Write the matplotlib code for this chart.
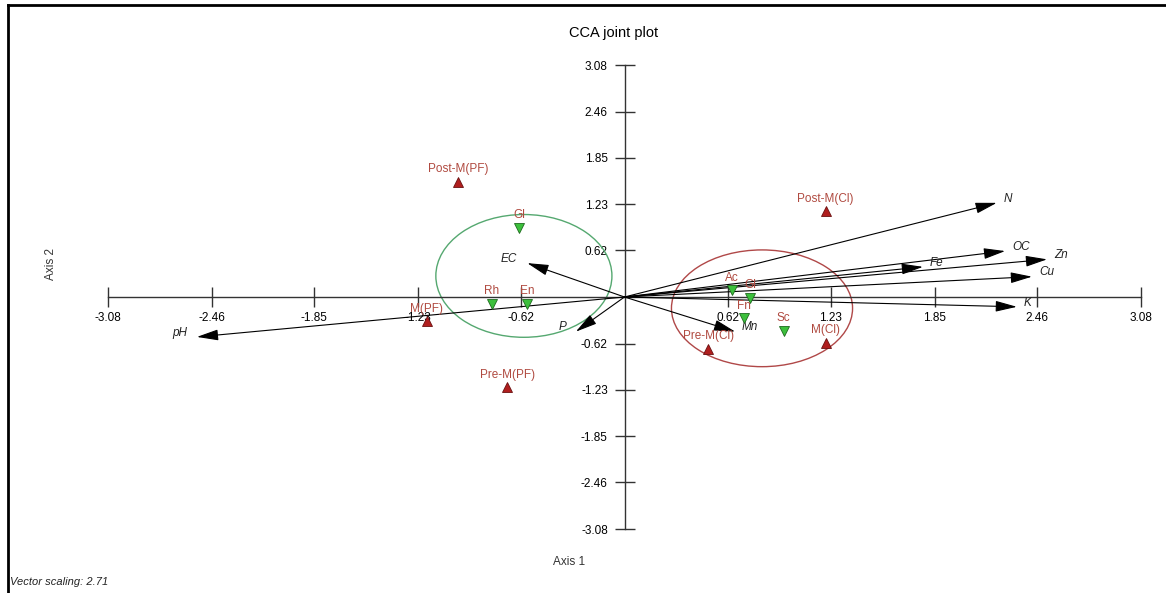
import numpy as np
import matplotlib
matplotlib.use("Agg")
import matplotlib.pyplot as plt
from matplotlib.patches import Ellipse
from matplotlib.lines import Line2D

plt.rcParams["font.family"] = ["Liberation Sans", "DejaVu Sans"]

## Data
sites = ["Post-M(PF)", "Post-M(Cl)", "M(PF)", "Pre-M(PF)", "Pre-M(Cl)", "M(Cl)"]
site_x = [-0.99, 1.20, -1.18, -0.70, 0.50, 1.20]
site_y = [1.53, 1.14, -0.32, -1.20, -0.69, -0.61]

species = ["Gl", "Rh", "En", "Ac", "Gl", "Fn", "Sc"]
species_x = [-0.63, -0.79, -0.58, 0.64, 0.75, 0.71, 0.95]
species_y = [0.92, -0.09, -0.09, 0.09, -0.01, -0.28, -0.45]

vectors = ["N", "OC", "Zn", "Cu", "K", "Fe", "EC", "P", "pH", "Mn"]
vec_x = [2.22, 2.27, 2.52, 2.43, 2.34, 1.78, -0.58, -0.29, -2.55, 0.66]
vec_y = [1.25, 0.61, 0.50, 0.27, -0.13, 0.40, 0.45, -0.46, -0.53, -0.46]

# group ellipses: centre x, centre y, width, height
groups_cx = [-0.60, 0.82]
groups_cy = [0.28, -0.15]
groups_w = [1.05, 1.08]
groups_h = [1.63, 1.55]

ticks = [-3.08, -2.46, -1.85, -1.23, -0.62, 0.62, 1.23, 1.85, 2.46, 3.08]

## Plot
W, H = 1166, 593
fig = plt.figure(figsize=(W / 100, H / 100), dpi=100)
ax = fig.add_axes([108 / W, 1 - 529 / H, (1141 - 108) / W, (529 - 65) / H])
ax.set_xlim(-3.08, 3.08)
ax.set_ylim(-3.08, 3.08)

for side in ["top", "right"]:
    ax.spines[side].set_visible(False)
for side in ["left", "bottom"]:
    ax.spines[side].set_position("zero")
    ax.spines[side].set_color("#333333")
    ax.spines[side].set_linewidth(1.0)

ax.set_xticks(ticks)
ax.set_yticks(ticks)
ax.set_xticklabels(["%.2f" % t for t in ticks])
ax.set_yticklabels(["%.2f" % t for t in ticks])
ax.tick_params(axis="x", direction="inout", length=14, width=1, labelsize=8.5, pad=4, color="#333333")
ax.tick_params(axis="y", direction="inout", length=14, width=1, labelsize=8.5, pad=5, color="#333333")
ax.patch.set_alpha(0)

label_col = "#B04A40"

# ellipses
ell_cols = ["#55A870", "#B04848"]
for cx, cy, w, h, c in zip(groups_cx, groups_cy, groups_w, groups_h, ell_cols):
    ax.add_patch(Ellipse((cx, cy), w, h, fill=False, edgecolor=c, lw=1.0, zorder=2))

# vectors
for name, vx, vy in zip(vectors, vec_x, vec_y):
    ax.annotate("", xy=(vx, vy), xytext=(0, 0),
                arrowprops=dict(arrowstyle="-|>,head_length=1.1,head_width=0.28",
                                color="black", lw=0.8, shrinkA=0, shrinkB=0,
                                mutation_scale=12), zorder=3)
    if vx > 0:
        ax.annotate(name, (vx, vy), xytext=(5, 3), textcoords="offset points",
                    ha="left", va="center", style="italic", fontsize=8.5, color="#222222")
    else:
        ax.annotate(name, (vx, vy), xytext=(-7, 3), textcoords="offset points",
                    ha="right", va="center", style="italic", fontsize=8.5, color="#222222")

# sites (red up-triangles)
ax.plot(site_x, site_y, linestyle="none", marker="^", markersize=7,
        markerfacecolor="#B01E1E", markeredgecolor="#6A1010", markeredgewidth=0.6, zorder=4)
for name, sx, sy in zip(sites, site_x, site_y):
    ax.annotate(name, (sx, sy), xytext=(0, 9), textcoords="offset points",
                ha="center", va="center", fontsize=8.5, color=label_col)

# species (green down-triangles)
ax.plot(species_x, species_y, linestyle="none", marker="v", markersize=7,
        markerfacecolor="#3CC03C", markeredgecolor="#1E6A1E", markeredgewidth=0.6, zorder=4)
for name, sx, sy in zip(species, species_x, species_y):
    ax.annotate(name, (sx, sy), xytext=(0, 9), textcoords="offset points",
                ha="center", va="center", fontsize=8.5, color=label_col)

# texts
fig.text(614 / W, 1 - 33 / H, "CCA joint plot", ha="center", va="center", fontsize=10.5)
fig.text(569 / W, 1 - 562 / H, "Axis 1", ha="center", va="center", fontsize=8.5, color="#333333")
fig.text(51 / W, 1 - 264 / H, "Axis 2", ha="center", va="center", rotation=90, fontsize=8.5, color="#333333")
fig.text(10 / W, 1 - 582 / H, "Vector scaling: 2.71", ha="left", va="center",
         style="italic", fontsize=8, color="#222222")

# frame lines (top and left)
fig.add_artist(Line2D([8 / W, 1], [1 - 5 / H, 1 - 5 / H], transform=fig.transFigure, color="black", lw=2))
fig.add_artist(Line2D([8 / W, 8 / W], [0, 1 - 5 / H], transform=fig.transFigure, color="black", lw=2))

fig.savefig("out.png", dpi=100)
